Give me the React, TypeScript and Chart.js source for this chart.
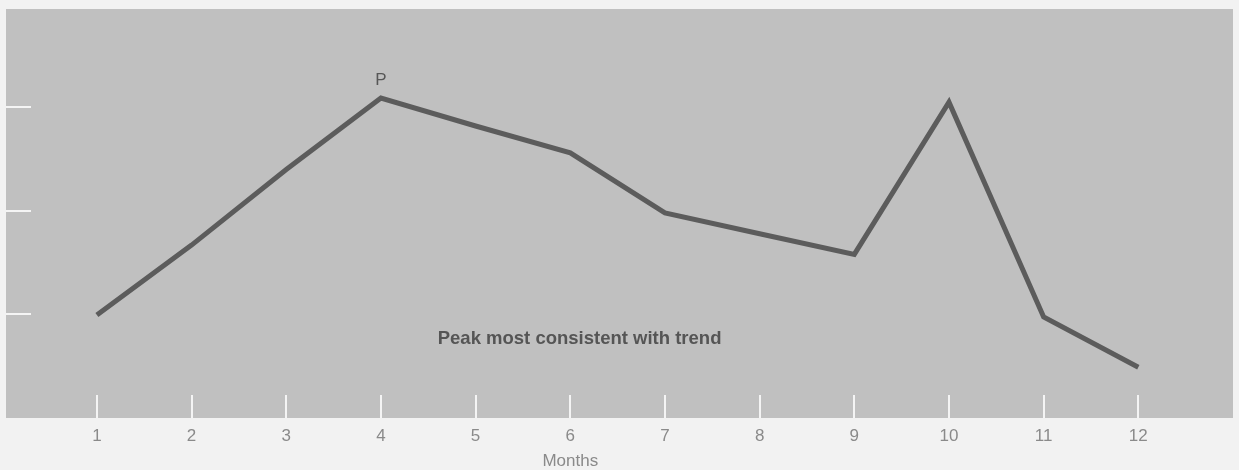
import React, { useEffect, useRef } from "react";
import { Chart, registerables } from "chart.js";

Chart.register(...registerables);

const months = [1, 2, 3, 4, 5, 6, 7, 8, 9, 10, 11, 12];
const values = [0.995, 1.67, 2.4, 3.09, 2.82, 2.56, 1.98, 1.78, 1.58, 3.05, 0.975, 0.49];
const yTickValues = [1, 2, 3];
const xAxisTitle = "Months";
const peakLabel = "P";
const peakIndex = 3;
const noteText = "Peak most consistent with trend";
const noteX = 4.6;
const noteY = 0.76;

export default function App() {
  const ref = useRef<HTMLCanvasElement | null>(null);

  useEffect(() => {
    document.body.style.margin = "0";
    const canvas = ref.current;
    if (!canvas) return;

    const decor = {
      id: "decor",
      beforeDraw(chart: any) {
        const { ctx, chartArea, width, height } = chart;
        ctx.save();
        ctx.fillStyle = "#f2f2f2";
        ctx.fillRect(0, 0, width, height);
        ctx.fillStyle = "#c0c0c0";
        ctx.fillRect(chartArea.left, chartArea.top, chartArea.right - chartArea.left, chartArea.bottom - chartArea.top);
        const xs = chart.scales.x;
        const ys = chart.scales.y;
        ctx.strokeStyle = "#f4f4f4";
        ctx.lineWidth = 2;
        months.forEach((m) => {
          const px = Math.round(xs.getPixelForValue(m));
          ctx.beginPath();
          ctx.moveTo(px, chartArea.bottom);
          ctx.lineTo(px, chartArea.bottom - 23);
          ctx.stroke();
        });
        yTickValues.forEach((v) => {
          const py = Math.round(ys.getPixelForValue(v));
          ctx.beginPath();
          ctx.moveTo(chartArea.left, py);
          ctx.lineTo(chartArea.left + 25, py);
          ctx.stroke();
        });
        ctx.fillStyle = "#555555";
        ctx.font = "bold 18.5px 'Liberation Sans', Arial, sans-serif";
        ctx.textAlign = "left";
        ctx.textBaseline = "middle";
        ctx.fillText(noteText, xs.getPixelForValue(noteX), ys.getPixelForValue(noteY));
        ctx.restore();
      },
      afterDraw(chart: any) {
        const { ctx } = chart;
        const xs = chart.scales.x;
        const ys = chart.scales.y;
        ctx.save();
        ctx.fillStyle = "#575757";
        ctx.font = "17px 'Liberation Sans', Arial, sans-serif";
        ctx.textAlign = "center";
        ctx.textBaseline = "middle";
        ctx.fillText(peakLabel, xs.getPixelForValue(months[peakIndex]), ys.getPixelForValue(values[peakIndex]) - 18);
        ctx.fillStyle = "#8a8a8a";
        ctx.font = "17px 'Liberation Sans', Arial, sans-serif";
        ctx.fillText(xAxisTitle, xs.getPixelForValue(6), 461);
        ctx.restore();
      },
    };

    const chart = new Chart(canvas, {
      type: "line",
      data: {
        datasets: [
          {
            data: months.map((m, i) => ({ x: m, y: values[i] })),
            borderColor: "#5c5c5c",
            borderWidth: 5,
            borderCapStyle: "butt",
            borderJoinStyle: "miter",
            pointRadius: 0,
            tension: 0,
            fill: false,
          },
        ],
      },
      options: {
        animation: false,
        responsive: false,
        maintainAspectRatio: false,
        layout: { padding: { left: 6, right: 6, top: 9, bottom: 0 } },
        plugins: { legend: { display: false }, tooltip: { enabled: false } },
        scales: {
          x: {
            type: "linear",
            min: 0.04,
            max: 13,
            grid: { display: false, drawTicks: false },
            border: { display: false },
            afterBuildTicks: (axis: any) => {
              axis.ticks = months.map((m) => ({ value: m }));
            },
            afterFit: (axis: any) => {
              axis.height = 52;
            },
            ticks: {
              padding: 8,
              color: "#8a8a8a",
              font: { family: "'Liberation Sans', Arial, sans-serif", size: 17 },
              maxRotation: 0,
              autoSkip: false,
              callback: (v: any) => String(v),
            },
          },
          y: {
            display: false,
            min: 0,
            max: 3.95,
          },
        },
      },
      plugins: [decor],
    } as any);

    return () => chart.destroy();
  }, []);

  return (
    <div style={{ width: 1239, height: 470 }}>
      <canvas ref={ref} width={1239} height={470} style={{ display: "block" }} />
    </div>
  );
}
